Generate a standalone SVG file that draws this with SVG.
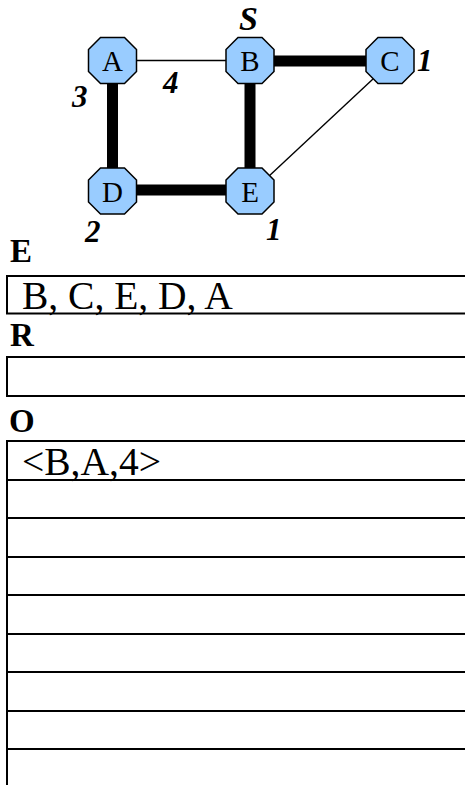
<svg xmlns="http://www.w3.org/2000/svg" width="465" height="785" viewBox="0 0 465 785">
<style>
.node{fill:#99ccff;stroke:#000;stroke-width:1.5}
.nl{font-family:"Liberation Serif","Times New Roman",serif;font-size:29px;text-anchor:middle;fill:#000}
.wt{font-family:"Liberation Serif","Times New Roman",serif;font-size:31px;font-weight:bold;font-style:italic;fill:#000}
.thin{stroke:#000;stroke-width:1.4;fill:none}
.thick{stroke:#000;stroke-width:11;fill:none}
.hd{font-family:"Liberation Serif","Times New Roman",serif;font-size:33px;font-weight:bold;fill:#000}
.box{fill:#fff;stroke:#000;stroke-width:2}
.row{stroke:#000;stroke-width:2}
.ct{font-family:"Liberation Serif","Times New Roman",serif;font-size:39.5px;fill:#000}
</style>
<defs>
<polygon id="oct" points="-12,-23 12,-23 24,-11 24,11 12,23 -12,23 -24,11 -24,-11"/>
</defs>
<rect width="465" height="785" fill="#fff"/>
<g id="connectors">
<line class="thin" x1="136" y1="60.5" x2="226" y2="60.5"/>
<line class="thick" x1="274" y1="61" x2="366" y2="61"/>
<line class="thick" x1="112.5" y1="83" x2="112.5" y2="169"/>
<line class="thick" x1="250" y1="83" x2="250" y2="169"/>
<line class="thick" x1="136" y1="190" x2="226" y2="190"/>
<line class="thin" x1="373" y1="79" x2="268" y2="177"/>
</g>
<g id="node-A"><use href="#oct" class="node" x="112.5" y="60.5"/><text class="nl" x="112.5" y="71">A</text></g>
<g id="node-B"><use href="#oct" class="node" x="250" y="60.5"/><text class="nl" x="250" y="71">B</text></g>
<g id="node-C"><use href="#oct" class="node" x="390" y="60.5"/><text class="nl" x="390" y="71">C</text></g>
<g id="node-D"><use href="#oct" class="node" x="112.5" y="191"/><text class="nl" x="112.5" y="201.5">D</text></g>
<g id="node-E"><use href="#oct" class="node" x="250" y="191"/><text class="nl" x="250" y="201.5">E</text></g>
<g id="weights">
<text class="wt" x="239" y="30" style="font-size:34px">S</text>
<text class="wt" x="417" y="71">1</text>
<text class="wt" x="266" y="240">1</text>
<text class="wt" x="163" y="93">4</text>
<text class="wt" x="72" y="107">3</text>
<text class="wt" x="85" y="242">2</text>
</g>
<g id="table-E">
<text class="hd" x="10" y="262">E</text>
<rect class="box" x="7" y="276" width="470" height="37.5"/>
<text class="ct" x="22" y="309">B, C, E, D, A</text>
</g>
<g id="table-R">
<text class="hd" x="10" y="346">R</text>
<rect class="box" x="7" y="357" width="470" height="39"/>
</g>
<g id="table-O">
<text class="hd" x="9" y="432">O</text>
<line class="row" x1="7" y1="441" x2="465" y2="441"/>
<line class="row" x1="7" y1="480" x2="465" y2="480"/>
<line class="row" x1="7" y1="518" x2="465" y2="518"/>
<line class="row" x1="7" y1="557" x2="465" y2="557"/>
<line class="row" x1="7" y1="595" x2="465" y2="595"/>
<line class="row" x1="7" y1="634" x2="465" y2="634"/>
<line class="row" x1="7" y1="672" x2="465" y2="672"/>
<line class="row" x1="7" y1="711" x2="465" y2="711"/>
<line class="row" x1="7" y1="749" x2="465" y2="749"/>
<line class="row" x1="7" y1="440" x2="7" y2="785"/>
<text class="ct" x="22" y="475">&lt;B,A,4&gt;</text>
</g>
</svg>
